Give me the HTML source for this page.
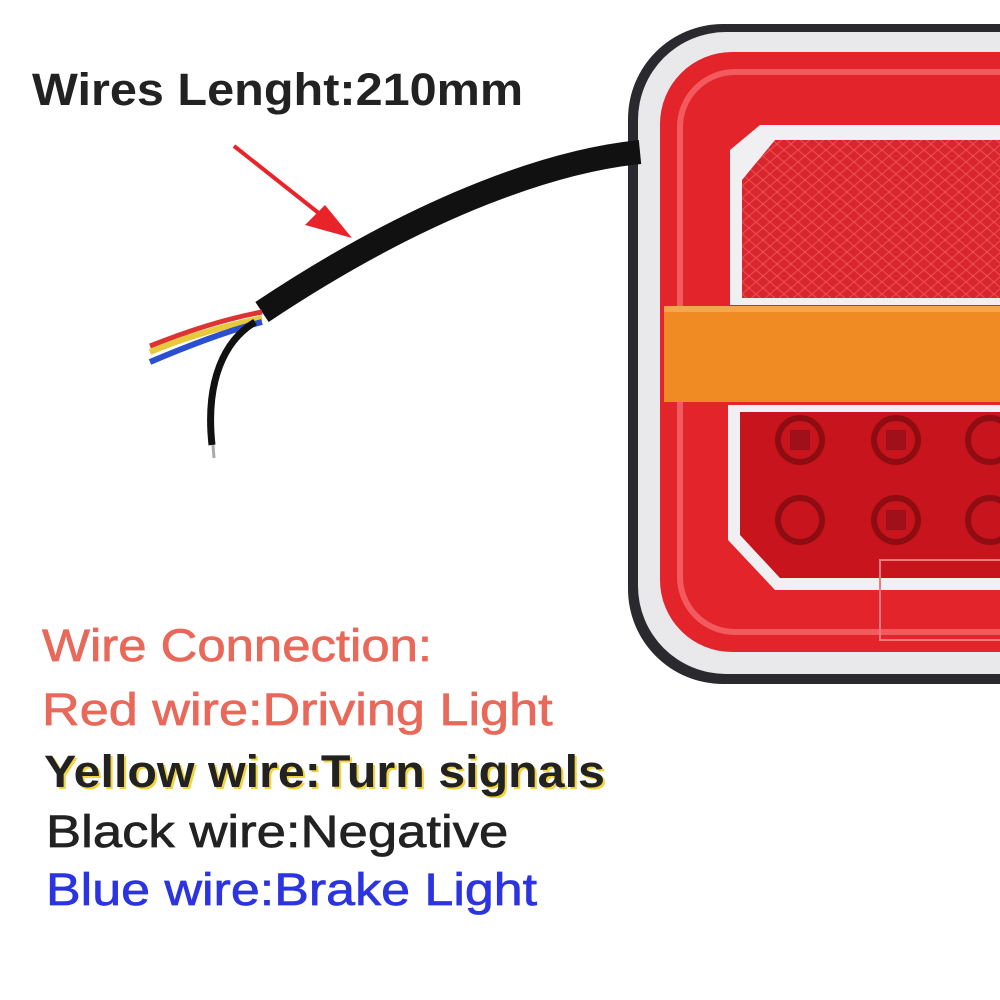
<!DOCTYPE html>
<html><head><meta charset="utf-8"><style>
html,body{margin:0;padding:0;background:#fff;width:1000px;height:1000px;overflow:hidden}
.t{position:absolute;font-family:"Liberation Sans","DejaVu Sans",sans-serif;white-space:nowrap;transform-origin:0 0}
.r{font-size:45px;-webkit-text-stroke:0.7px currentColor}
</style></head><body>
<svg width="1000" height="1000" style="position:absolute;left:0;top:0">
<defs>
<pattern id="hx" width="14" height="12" patternUnits="userSpaceOnUse">
<rect width="14" height="12" fill="#d8262c"/><path d="M0 6L7 0L14 6L7 12Z" fill="none" stroke="#ef5055" stroke-width="1"/></pattern>
</defs>
<rect x="628" y="24" width="480" height="660" rx="95" fill="#2a2a2e"/>
<rect x="638" y="32" width="470" height="642" rx="88" fill="#e9e9ec"/>
<rect x="660" y="52" width="440" height="600" rx="72" fill="#e3242b"/>
<rect x="680" y="72" width="420" height="560" rx="55" fill="none" stroke="#f25a5e" stroke-width="6"/>
<path d="M730 150 L760 125 L1000 125 L1000 305 L730 305 Z" fill="#f0f0f2"/>
<path d="M742 180 L775 140 L1000 140 L1000 298 L742 298 Z" fill="url(#hx)"/>
<rect x="664" y="306" width="340" height="96" fill="#f08a22"/>
<rect x="664" y="306" width="340" height="6" fill="#f6a64a"/>
<path d="M728 405 L1000 405 L1000 590 L775 590 L728 540 Z" fill="#f0f0f2"/>
<path d="M740 412 L1000 412 L1000 578 L780 578 L740 535 Z" fill="#c8151d"/>
<g fill="none" stroke="#8e0c12" stroke-width="6">
<circle cx="800" cy="440" r="22"/><circle cx="896" cy="440" r="22"/><circle cx="990" cy="440" r="22"/>
<circle cx="800" cy="520" r="22"/><circle cx="896" cy="520" r="22"/><circle cx="990" cy="520" r="22"/>
</g>
<g fill="#a0101a"><rect x="790" y="430" width="20" height="20"/><rect x="886" y="430" width="20" height="20"/><rect x="886" y="510" width="20" height="20"/></g>
<rect x="880" y="560" width="130" height="80" fill="none" stroke="#f07a7c" stroke-width="2"/>
<path d="M640 152 C560 160 430 200 262 312" fill="none" stroke="#111" stroke-width="24"/>
<path d="M262 318 C230 325 190 335 150 352" stroke="#e8c93a" stroke-width="6" fill="none"/>
<path d="M262 312 C230 318 190 330 150 346" stroke="#d33" stroke-width="5" fill="none"/>
<path d="M262 322 C230 330 190 345 150 362" stroke="#2a4fd0" stroke-width="6" fill="none"/>
<path d="M255 322 C225 340 205 380 212 445" stroke="#111" stroke-width="7" fill="none"/>
<line x1="213" y1="445" x2="214" y2="458" stroke="#aaa" stroke-width="3"/>
<line x1="234" y1="146" x2="330" y2="222" stroke="#e8242a" stroke-width="4"/>
<path d="M352 238 L305 225 L325 205 Z" fill="#e8242a"/>
</svg>
<div class="t" style="left:32px;top:64px;font-size:45px;color:#222;font-weight:bold;transform:scaleX(1.08)">Wires Lenght:210mm</div>
<div class="t r" style="left:42px;top:620px;color:#e8685a;transform:scaleX(1.13)">Wire Connection:</div>
<div class="t r" style="left:42px;top:684px;color:#e8685a;transform:scaleX(1.16)">Red wire:Driving Light</div>
<div class="t" style="left:44px;top:746px;font-size:45px;color:#222;font-weight:bold;text-shadow:2px 2px 0 #f2d53c;transform:scaleX(1.075)">Yellow wire:Turn signals</div>
<div class="t r" style="left:46px;top:806px;color:#222;transform:scaleX(1.17)">Black wire:Negative</div>
<div class="t r" style="left:46px;top:864px;color:#2b34e0;transform:scaleX(1.155)">Blue wire:Brake Light</div>
</body></html>
